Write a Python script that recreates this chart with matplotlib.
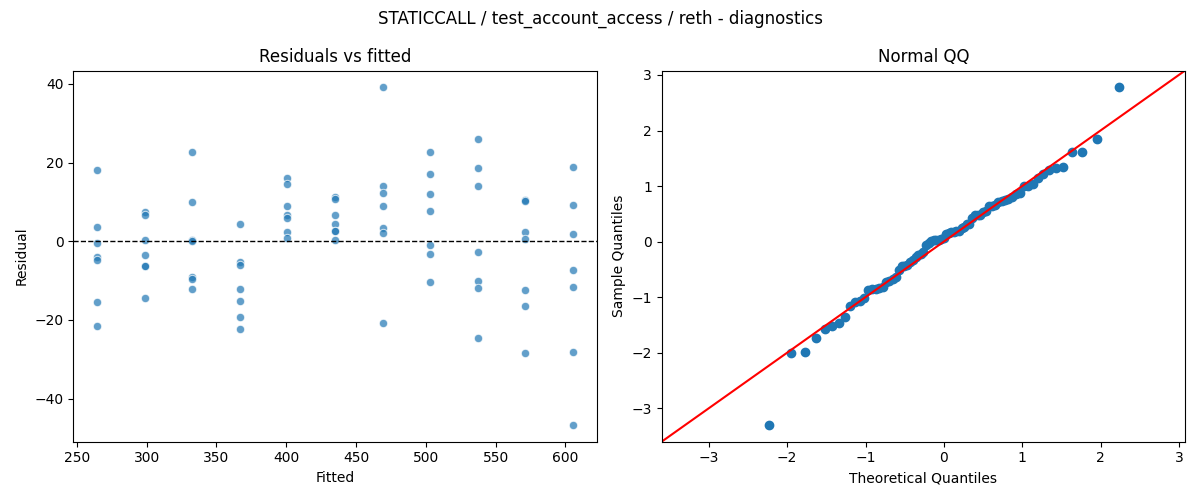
import matplotlib
matplotlib.use("Agg")
import matplotlib.pyplot as plt
import numpy as np
from statistics import NormalDist

# fitted value of each group (7 runs per group)
fitted_levels = [264.6, 298.7, 332.8, 366.8, 400.9, 435.0, 469.1, 503.2, 537.2, 571.3, 605.4]

# residuals, one list per fitted level
residual_groups = [
    [18.0, 3.6, -0.5, -4.1, -4.7, -15.5, -21.6],
    [7.4, 6.6, 0.2, -3.6, -6.2, -6.4, -14.5],
    [22.8, 9.9, 0.3, 0.1, -9.0, -9.6, -12.2],
    [4.3, -5.3, -6.1, -12.2, -15.2, -19.3, -22.3],
    [16.2, 14.6, 8.9, 6.6, 5.8, 2.3, 0.8],
    [11.2, 10.7, 6.6, 4.3, 2.7, 2.5, 0.25],
    [39.1, 14.0, 12.3, 8.9, 3.3, 2.0, -20.8],
    [22.8, 17.0, 11.9, 7.6, -1.0, -3.3, -10.4],
    [25.9, 18.5, 14.0, -2.8, -10.1, -11.9, -24.6],
    [10.5, 10.2, 2.3, 0.5, -12.4, -16.5, -28.4],
    [18.8, 9.1, 1.8, -7.4, -11.7, -28.1, -46.7],
]

fitted = np.repeat(fitted_levels, [len(g) for g in residual_groups])
resid = np.concatenate([np.array(g) for g in residual_groups])

# normal QQ, same as statsmodels qqplot(fit=True, line='45')
n = len(resid)
nd = NormalDist()
theo = np.array([nd.inv_cdf(i / (n + 1)) for i in range(1, n + 1)])
sample = (np.sort(resid) - resid.mean()) / resid.std()

fig, (ax1, ax2) = plt.subplots(1, 2, figsize=(12, 5), dpi=100)
fig.suptitle("STATICCALL / test_account_access / reth - diagnostics")

ax1.scatter(fitted, resid, s=36, color="#1f77b4", alpha=0.7, edgecolor="white", linewidth=0.75)
ax1.axhline(0, color="black", linestyle="--", linewidth=1)
ax1.set_title("Residuals vs fitted")
ax1.set_xlabel("Fitted")
ax1.set_ylabel("Residual")

ax2.plot(theo, sample, "o", color="#1f77b4", markersize=6)
ax2.autoscale_view()
xl = ax2.get_xlim()
yl = ax2.get_ylim()
lims = [min(xl[0], yl[0]), max(xl[1], yl[1])]
ax2.plot(lims, lims, "r", linewidth=1.5)
ax2.set_xlim(lims)
ax2.set_ylim(lims)
ax2.set_title("Normal QQ")
ax2.set_xlabel("Theoretical Quantiles")
ax2.set_ylabel("Sample Quantiles")

fig.tight_layout()
fig.savefig("out.png")
